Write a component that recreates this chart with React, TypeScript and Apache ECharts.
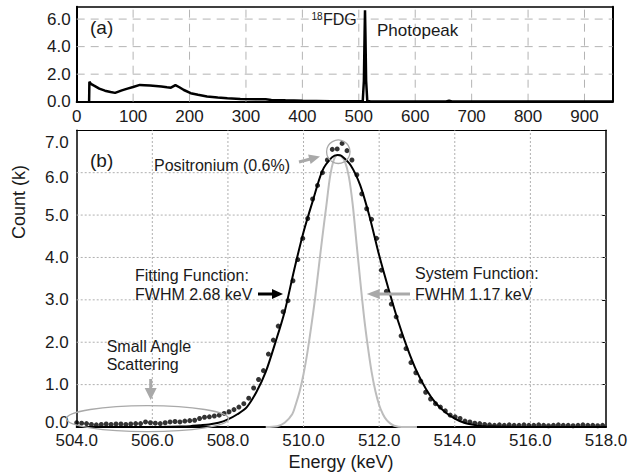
import React, { useEffect, useRef } from "react";
import * as echarts from "echarts";

// ---------- Panel (a): full 18F-FDG spectrum (keV, count in k) ----------
const spectrumEnergy = [22, 22.5, 25, 30, 40, 50, 60, 68, 80, 90, 100, 112, 120, 130, 140, 150, 160, 167, 175, 182, 190, 202, 215, 231, 250, 267, 290, 320, 335, 345, 370, 400, 450, 490, 500, 507, 509, 510.3, 511, 511.7, 513, 515, 520, 600, 655, 660, 665, 950];
const spectrumCount = [0, 1.45, 1.3, 1.18, 0.95, 0.8, 0.7, 0.64, 0.82, 0.95, 1.07, 1.22, 1.2, 1.17, 1.14, 1.1, 1.05, 1.02, 1.2, 1.05, 0.85, 0.62, 0.5, 0.38, 0.3, 0.25, 0.2, 0.18, 0.17, 0.13, 0.1, 0.07, 0.04, 0.03, 0.04, 0.06, 1.5, 5.0, 6.64, 5.0, 1.5, 0.06, 0.03, 0.01, 0.01, 0.07, 0.01, 0.01];

const topXTicks = [0, 100, 200, 300, 400, 500, 600, 700, 800, 900];
const topYTicks = [0, 2, 4, 6];

// ---------- Panel (b): photopeak detail ----------
// measured data points (bin start 504.0 keV, bin width 0.13 keV)
const dotBinStart = 504.0;
const dotBinWidth = 0.13;
const dotCount = [
  0.10, 0.09, 0.08, 0.06, 0.05, 0.06, 0.07, 0.06, 0.07, 0.07, 0.06, 0.07, 0.08, 0.08,
  0.12, 0.10, 0.09, 0.08, 0.10, 0.12, 0.13, 0.12, 0.14, 0.15,
  0.16, 0.20, 0.23, 0.24, 0.26, 0.28, 0.32, 0.36, 0.41, 0.47,
  0.55, 0.68, 0.92, 1.12, 1.33, 1.72, 2.05, 2.38, 2.72, 2.98,
  3.45, 3.95, 4.45, 4.92, 5.38, 5.70, 6.00, 6.30, 6.55, 6.56, 6.69, 6.52,
  6.30, 5.95, 5.50, 5.15, 4.90, 4.45, 3.70, 3.20, 2.90, 2.60, 2.15, 1.85, 1.52, 1.28,
  1.08, 0.82, 0.66, 0.55, 0.47, 0.38, 0.28, 0.24, 0.20, 0.14, 0.12, 0.09, 0.08, 0.06,
  0.05, 0.04, 0.05, 0.04, 0.05, 0.04, 0.04, 0.05, 0.04, 0.04, 0.05, 0.04, 0.03, 0.04, 0.05, 0.04, 0.04, 0.03, 0.04, 0.05, 0.04, 0.04, 0.03, 0.04,
];

// fitting function (FWHM 2.68 keV)
const fitEnergy = [504, 505, 506, 506.5, 506.75, 507, 507.25, 507.5, 507.75, 508, 508.25, 508.5, 508.75, 509, 509.25, 509.5, 509.75, 510, 510.25, 510.5, 510.75, 510.9, 511, 511.25, 511.5, 511.75, 512, 512.25, 512.5, 512.75, 513, 513.25, 513.5, 513.75, 514, 514.25, 514.5, 514.75, 515, 516, 517, 518];
const fitCount = [0, 0, 0, 0.005, 0.01, 0.02, 0.04, 0.06, 0.1, 0.18, 0.3, 0.47, 0.82, 1.3, 1.98, 2.72, 3.7, 4.6, 5.35, 6.05, 6.36, 6.42, 6.4, 6.17, 5.7, 4.95, 4.05, 3.25, 2.5, 1.85, 1.3, 0.88, 0.56, 0.35, 0.2, 0.1, 0.05, 0.02, 0.01, 0, 0, 0];

// system function (FWHM 1.17 keV)
const sysEnergy = [509.0, 509.3, 509.5, 509.7, 509.8, 509.9, 510.0, 510.1, 510.2, 510.3, 510.4, 510.5, 510.6, 510.7, 510.8, 510.9, 511.0, 511.1, 511.2, 511.3, 511.4, 511.5, 511.6, 511.7, 511.8, 511.9, 512.0, 512.1, 512.2, 512.3, 512.4, 512.6, 513.0];
const sysCount = [0, 0.02, 0.1, 0.3, 0.55, 0.85, 1.25, 1.75, 2.35, 3.0, 3.75, 4.5, 5.2, 5.9, 6.3, 6.42, 6.38, 6.25, 5.9, 5.25, 4.35, 3.45, 2.6, 1.9, 1.3, 0.85, 0.52, 0.3, 0.16, 0.08, 0.03, 0, 0];

const bottomXTicks = [504, 506, 508, 510, 512, 514, 516, 518];
const bottomYTicks = [0, 1, 2, 3, 4, 5, 6, 7];

const FONT = '"Liberation Sans", Arial, Helvetica, sans-serif';
const TXT = "#1a1a1a";
const GRAY = "#a9a9a9";

function arrow(x1: number, y1: number, x2: number, y2: number, color: string, width: number, headLen: number, headW: number) {
  const dx = x2 - x1, dy = y2 - y1;
  const len = Math.sqrt(dx * dx + dy * dy);
  const ux = dx / len, uy = dy / len;
  const bx = x2 - ux * headLen, by = y2 - uy * headLen;
  const px = -uy * headW / 2, py = ux * headW / 2;
  return [
    { type: "line", silent: true, z: 100, shape: { x1, y1, x2: bx + ux, y2: by + uy }, style: { stroke: color, lineWidth: width } },
    { type: "polygon", silent: true, z: 100, shape: { points: [[x2, y2], [bx + px, by + py], [bx - px, by - py]] }, style: { fill: color } },
  ];
}

function txt(text: string, x: number, y: number, size: number, extra: any = {}) {
  return {
    type: "text", silent: true, z: 100, x, y,
    style: { text, fontSize: size, fontFamily: FONT, fill: TXT, align: "left", verticalAlign: "middle", ...extra },
  };
}

export default function App() {
  const ref = useRef<HTMLDivElement>(null);
  useEffect(() => {
    if (!ref.current) return;
    const chart = echarts.init(ref.current, undefined, { renderer: "svg" });

    const isTick = (ticks: number[]) => (v: number) => ticks.some((t) => Math.abs(t - v) < 1e-6);
    const topXOk = isTick(topXTicks), topYOk = isTick(topYTicks);
    const botXOk = isTick(bottomXTicks), botYOk = isTick(bottomYTicks);

    const dots = dotCount.map((c, i) => [dotBinStart + dotBinWidth * i, c]);

    const frameAxis = (gridIndex: number, position: string, min: number, max: number, interval: number, width: number, ticks = false) => ({
      gridIndex, type: "value", position, min, max, interval,
      axisLine: { show: true, onZero: false, lineStyle: { color: "#000", width } },
      axisTick: { show: ticks, inside: true, length: 4, lineStyle: { color: "#000", width: 1 } },
      axisLabel: { show: false },
      splitLine: { show: false },
    });

    const labelStyle = { fontSize: 17, color: TXT, fontFamily: FONT };

    // grid lines: one plain line series per interior tick, through the axes' scales
    const gridLineSeries = (xi: number, yi: number, xs: number[], ys: number[], xr: number[], yr: number[], color: string, dash: number[]) => [
      ...xs.map((v) => ({
        type: "line", xAxisIndex: xi, yAxisIndex: yi, silent: true, z: 1, showSymbol: false, symbol: "none",
        data: [[v, yr[0]], [v, yr[1]]],
        lineStyle: { color, width: 1, type: dash },
      })),
      ...ys.map((v) => ({
        type: "line", xAxisIndex: xi, yAxisIndex: yi, silent: true, z: 1, showSymbol: false, symbol: "none",
        data: [[xr[0], v], [xr[1], v]],
        lineStyle: { color, width: 1, type: dash },
      })),
    ];

    const option: any = {
      animation: false,
      backgroundColor: "#fff",
      textStyle: { fontFamily: FONT },
      grid: [
        { left: 76.7, top: 6.7, width: 536, height: 95 },
        { left: 76.7, top: 130.3, width: 529.3, height: 296.7 },
      ],
      xAxis: [
        {
          gridIndex: 0, type: "value", position: "bottom", min: 0, max: 950, interval: 100,
          axisLine: { show: true, onZero: false, lineStyle: { color: "#000", width: 2 } },
          axisTick: { show: false },
          axisLabel: { ...labelStyle, margin: 6, formatter: (v: number) => (topXOk(v) ? String(v) : "") },
          splitLine: { show: false },
        },
        frameAxis(0, "top", 0, 950, 100, 1.5),
        {
          gridIndex: 1, type: "value", position: "bottom", min: 504, max: 518, interval: 2,
          axisLine: { show: true, onZero: false, lineStyle: { color: "#000", width: 2 } },
          axisTick: { show: false },
          axisLabel: { ...labelStyle, margin: 5, formatter: (v: number) => (botXOk(v) ? v.toFixed(1) : "") },
          splitLine: { show: false },
        },
        frameAxis(1, "top", 504, 518, 2, 1.2),
      ],
      yAxis: [
        {
          gridIndex: 0, type: "value", position: "left", min: 0, max: 6.9, interval: 2,
          axisLine: { show: true, onZero: false, lineStyle: { color: "#000", width: 2 } },
          axisTick: { show: false },
          axisLabel: { ...labelStyle, margin: 6, formatter: (v: number) => (topYOk(v) ? v.toFixed(1) : "") },
          splitLine: { show: false },
        },
        frameAxis(0, "right", 0, 6.9, 2, 2),
        {
          gridIndex: 1, type: "value", position: "left", min: 0, max: 7, interval: 1,
          axisLine: { show: true, onZero: false, lineStyle: { color: "#000", width: 1.5 } },
          axisTick: { show: false },
          axisLabel: {
            ...labelStyle, margin: 8,
            formatter: (v: number) => {
              if (!botYOk(v)) return "";
              const s = v.toFixed(1);
              if (Math.abs(v - 7) < 1e-6) return "{dn|" + s + "}";
              if (Math.abs(v - 6) < 1e-6) return "{dn2|" + s + "}";
              if (Math.abs(v) < 1e-6) return "{up|" + s + "}";
              return s;
            },
            rich: {
              dn: { ...labelStyle, padding: [24, 0, 0, 0] },
              dn2: { ...labelStyle, padding: [9, 0, 0, 0] },
              up: { ...labelStyle, padding: [0, 0, 10, 0] },
            },
          },
          splitLine: { show: false },
        },
        frameAxis(1, "right", 0, 7, 1, 1.5, true),
      ],
      series: [
        ...gridLineSeries(0, 0, topXTicks.filter((v) => v > 0), topYTicks.filter((v) => v > 0), [0, 950], [0, 6.9], "#b4b4b4", [8, 6]),
        ...gridLineSeries(2, 2, bottomXTicks.filter((v) => v > 504 && v < 518), bottomYTicks.filter((v) => v > 0 && v < 7), [504, 518], [0, 7], "#b0b0b0", [2, 2]),
        {
          type: "line", xAxisIndex: 0, yAxisIndex: 0, showSymbol: false, symbol: "none",
          data: spectrumEnergy.map((e, i) => [e, spectrumCount[i]]),
          lineStyle: { color: "#000", width: 2.5 }, z: 3,
        },
        {
          type: "line", xAxisIndex: 2, yAxisIndex: 2, showSymbol: false, symbol: "none", smooth: 0.3,
          data: sysEnergy.map((e, i) => [e, sysCount[i]]),
          lineStyle: { color: "#bdbdbd", width: 2 }, z: 3,
        },
        {
          type: "line", xAxisIndex: 2, yAxisIndex: 2, showSymbol: false, symbol: "none", smooth: 0.3,
          data: fitEnergy.map((e, i) => [e, fitCount[i]]),
          lineStyle: { color: "#000", width: 2 }, z: 4,
        },
        {
          type: "scatter", xAxisIndex: 2, yAxisIndex: 2, symbolSize: 5,
          data: dots, itemStyle: { color: "#000" }, z: 5,
        },
      ],
      graphic: [
        // panel (a)
        txt("(a)", 90, 27, 19),
        txt("18", 311.5, 16, 10),
        txt("FDG", 323, 19.5, 16),
        txt("Photopeak", 377, 30, 17),
        // panel (b)
        txt("(b)", 90, 160, 19),
        txt("Positronium (0.6%)", 154, 165, 16),
        ...arrow(299, 162, 320, 156.5, GRAY, 3, 11, 10),
        { type: "circle", silent: true, z: 90, shape: { cx: 338.3, cy: 151.7, r: 11.7 }, style: { fill: "none", stroke: GRAY, lineWidth: 1.3 } },
        txt("Fitting Function:", 135, 275, 16),
        txt("FWHM 2.68 keV", 135, 294, 16),
        ...arrow(258, 294, 283, 294, "#000", 3, 11, 10),
        txt("System Function:", 415, 273.5, 16),
        txt("FWHM 1.17 keV", 415, 294, 16),
        ...arrow(410, 294, 366.7, 294, GRAY, 3, 13, 10),
        txt("Small Angle", 106.7, 346, 16),
        txt("Scattering", 106.7, 364.5, 16),
        ...arrow(150.7, 379, 150.7, 400, GRAY, 3, 12, 12),
        { type: "ellipse", silent: true, z: 90, shape: { cx: 147.5, cy: 418.7, rx: 81, ry: 13 }, style: { fill: "none", stroke: GRAY, lineWidth: 1.3 } },
        // axis names
        { type: "text", silent: true, z: 100, x: 19, y: 202, rotation: Math.PI / 2, style: { text: "Count (k)", fontSize: 18, fontFamily: FONT, fill: TXT, align: "center", verticalAlign: "middle" } },
        { type: "text", silent: true, z: 100, x: 341, y: 462, style: { text: "Energy (keV)", fontSize: 18, fontFamily: FONT, fill: TXT, align: "center", verticalAlign: "middle" } },
      ],
    };
    chart.setOption(option);
    return () => chart.dispose();
  }, []);
  return <div ref={ref} style={{ position: "fixed", left: 0, top: 0, width: 632, height: 474, background: "#fff" }} />;
}
